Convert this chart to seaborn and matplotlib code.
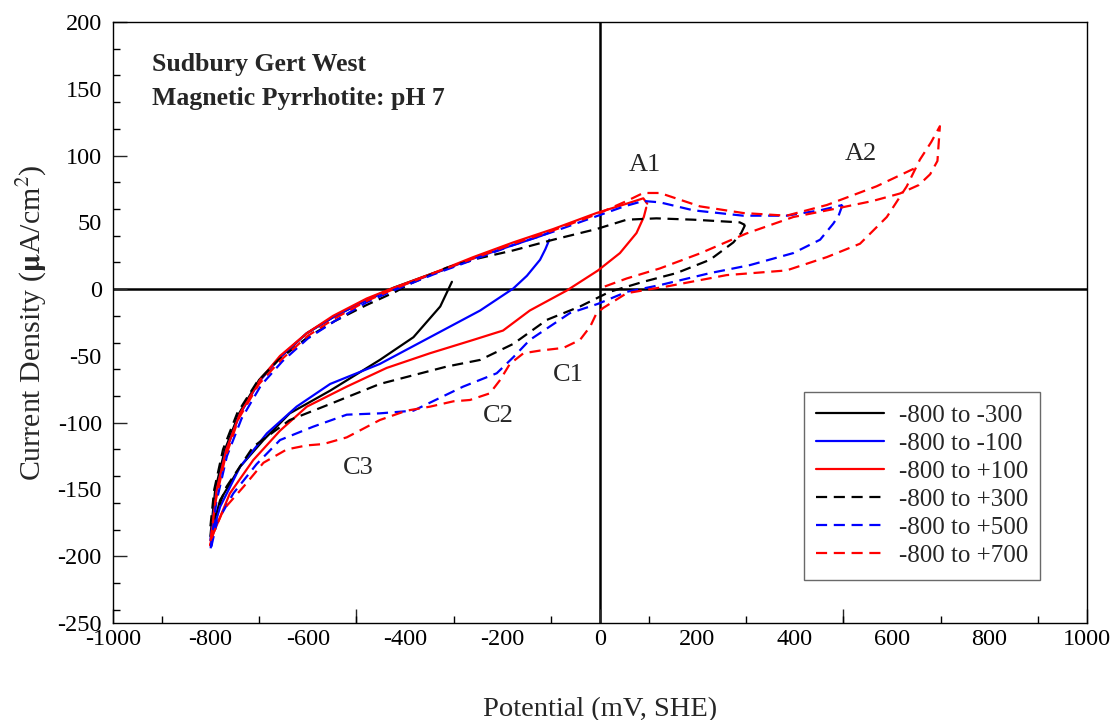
import numpy as np
import pandas as pd
import seaborn as sns
import matplotlib
matplotlib.use("Agg")
import matplotlib.pyplot as plt
from matplotlib.ticker import MultipleLocator, FixedLocator

# ---------------- data (potential mV SHE, current density uA/cm2) ----------------
labels = ["-800 to -300", "-800 to -100", "-800 to +100",
          "-800 to +300", "-800 to +500", "-800 to +700"]
colors = ["black", "blue", "red", "black", "blue", "red"]
styles = ["solid", "solid", "solid", "dashed", "dashed", "dashed"]

# -800 to -300 (solid black)
e_m300 = [-304, -328, -383, -452, -554, -637, -691, -739, -780, -800,
          -800, -790, -770, -741, -700, -657, -602, -548, -479, -424, -342, -300]
i_m300 = [5.5, -13, -36, -53, -76, -93, -113, -133, -158, -185,
          -185, -150, -120, -93, -68, -51, -33, -21, -8, 1, 12, 17]

# -800 to -100 (solid blue)
e_m100 = [-104, -112, -123, -150, -178, -246, -349, -452, -554, -623, -684, -739, -780, -800,
          -800, -788, -768, -740, -699, -657, -602, -548, -479, -424, -342, -260, -178, -120, -100]
i_m100 = [37, 30, 22, 10, 0.5, -16, -36, -56, -71, -88, -108, -133, -163, -188,
          -188, -152, -121, -94, -69, -51, -33, -21, -8, 0.5, 11.5, 23, 33, 40, 43]

# -800 to +100 (solid red)
e_p100 = [95, 90, 75, 41, -4, -68, -144, -199, -260, -349, -438, -520, -602, -657, -712, -760, -794, -800,
          -800, -787, -767, -739, -698, -657, -602, -548, -479, -424, -342, -260, -178, -96, -7, 55, 89, 97]
i_p100 = [61, 54, 42, 27, 14, -1, -16, -31, -38, -48, -59, -73, -88, -106, -128, -153, -183, -192,
          -192, -150, -120, -93, -68, -50, -33, -20, -7, 1, 12, 24, 35, 45, 57, 64, 68, 64]

# -800 to +300 (dashed black)
e_p300 = [298, 290, 274, 226, 157, 89, 20, -41, -109, -178, -246, -315, -452, -554, -637, -712, -767, -800,
          -800, -792, -774, -745, -705, -660, -600, -545, -480, -420, -390, -315, -250, -178, -96, -7, 55, 116, 192, 287, 298]
i_p300 = [48, 42, 35, 22, 12, 5.5, -2, -13, -23, -41, -53, -58, -71, -86, -98, -118, -148, -178,
          -178, -150, -120, -93, -70, -53, -36, -24, -12, -2, 4, 16, 23, 29, 37, 45, 52, 53, 52, 50, 48]

# -800 to +500 (dashed blue)
e_p500 = [498, 490, 479, 452, 397, 308, 226, 123, 55, -4, -62, -144, -178, -212, -281, -383, -452, -520, -589,
          -657, -705, -753, -787, -800,
          -800, -788, -766, -736, -696, -652, -600, -545, -480, -424, -342, -260, -178, -96, -4, 50, 89, 123,
          192, 294, 383, 452, 498]
i_p500 = [63, 55, 49, 37, 27, 18, 12, 3, -2, -11, -18, -38, -51, -63, -73, -91, -93, -94, -103,
          -113, -131, -153, -175, -196,
          -196, -160, -125, -97, -72, -54, -37, -24, -10, -1, 11, 22, 33, 43, 55, 62, 66, 65,
          59, 55, 55, 59, 63]

# -800 to +700 (dashed red): start near rest, up to +700, back to -800, up again
e_p700 = [10, 55, 123, 205, 277, 301, 397, 486, 560, 616, 655, 678, 693,
          698, 680, 657, 630, 589, 534, 466, 383, 260, 137, 55, 7, -7, -20, -41, -75, -123, -157, -185,
          -205, -226, -267, -301, -349, -397, -452, -520, -568, -602, -643, -691, -732, -773, -794, -800,
          -800, -790, -770, -742, -700, -655, -600, -545, -480, -424, -342, -260, -178, -96, -7, 55, 89,
          123, 205, 294, 383, 466, 568, 655]
i_p700 = [2, 8, 15.5, 26.7, 38, 41.7, 54, 60.4, 66, 71.6, 78, 86, 96,
          122, 110, 97, 77, 54, 34, 24, 14, 10.5, 2, -3, -14, -18, -28, -38, -44, -46, -48, -56,
          -68, -78, -83, -84, -88, -91, -98, -111, -116, -117, -120, -130, -148, -165, -183, -190,
          -190, -160, -127, -97, -71, -53, -35, -22, -9, 0, 12, 23, 34, 44, 56, 66, 72,
          72, 62, 57, 55, 63, 77, 92]

potentials = [e_m300, e_m100, e_p100, e_p300, e_p500, e_p700]
currents = [i_m300, i_m100, i_p100, i_p300, i_p500, i_p700]

peak_labels = ["A1", "A2", "C1", "C2", "C3"]
peak_pos = [(92, 93), (536, 101), (-64, -64), (-208, -95), (-497, -134)]

title_lines = ["Sudbury Gert West", "Magnetic Pyrrhotite: pH 7"]

# ---------------- styling ----------------
sns.set_theme(style="ticks")
plt.rcParams["font.family"] = ["Liberation Serif", "DejaVu Serif"]
plt.rcParams["axes.unicode_minus"] = False
plt.rcParams["mathtext.fontset"] = "stix"

fig = plt.figure(figsize=(11.13, 7.2), dpi=100)
ax = fig.add_axes([0.1015, 0.1347, 0.8751, 0.8347])

dash_map = {"solid": "-", "dashed": (0, (5.0, 3.0))}
for e, i, lab, c, s in zip(potentials, currents, labels, colors, styles):
    df = pd.DataFrame({"E": e, "I": i})
    sns.lineplot(data=df, x="E", y="I", sort=False, estimator=None, ax=ax,
                 color=c, linestyle=dash_map[s], linewidth=1.6, label=lab)

ax.axhline(0, color="black", linewidth=1.8, zorder=0)
ax.axvline(0, color="black", linewidth=1.8, zorder=0)

ax.set_xlim(-1000, 1000)
ax.set_ylim(-250, 200)

# labelled ticks
ax.xaxis.set_major_locator(MultipleLocator(200))
ax.yaxis.set_major_locator(MultipleLocator(50))
ax.tick_params(axis="both", which="major", length=0, labelsize=17.5, pad=4, colors="black")
ax.tick_params(axis="y", which="major", pad=8)
# minor tick marks
ax.xaxis.set_minor_locator(MultipleLocator(100))
ax.yaxis.set_minor_locator(MultipleLocator(20))
ax.tick_params(axis="both", which="minor", direction="in", length=5, width=1, color="black")

# long tick marks
secx = ax.secondary_xaxis("bottom")
secx.xaxis.set_major_locator(FixedLocator([-1000, -500, 0, 500, 1000]))
secx.tick_params(direction="in", length=10, width=1, labelbottom=False)
secx.spines["bottom"].set_visible(False)
secy = ax.secondary_yaxis("left")
secy.yaxis.set_major_locator(FixedLocator([-200, -100, 0, 100, 200]))
secy.tick_params(direction="in", length=10, width=1, labelleft=False)
secy.spines["left"].set_visible(False)

for sp in ax.spines.values():
    sp.set_visible(True)
    sp.set_linewidth(1.0)
    sp.set_color("black")

ax.set_xlabel("Potential (mV, SHE)", fontsize=20.5, labelpad=34)
ax.set_ylabel(r"Current Density ($\mathbf{\mu}$A/cm$^2$)", fontsize=21.5, labelpad=6)

ax.text(0.04, 0.918, title_lines[0], transform=ax.transAxes, fontsize=18.5, fontweight="bold")
ax.text(0.04, 0.862, title_lines[1], transform=ax.transAxes, fontsize=18.5, fontweight="bold")

for lab, (px, py) in zip(peak_labels, peak_pos):
    ax.text(px, py, lab, fontsize=19, ha="center", va="center")

leg = ax.legend(loc="upper left", bbox_to_anchor=(0.709, 0.384), borderaxespad=0,
                fontsize=18, frameon=True, fancybox=False, edgecolor="#444444",
                handlelength=2.7, handletextpad=0.6, labelspacing=0.22, borderpad=0.5)
leg.get_frame().set_linewidth(1.0)

fig.savefig("out.png", dpi=100, facecolor="white")
